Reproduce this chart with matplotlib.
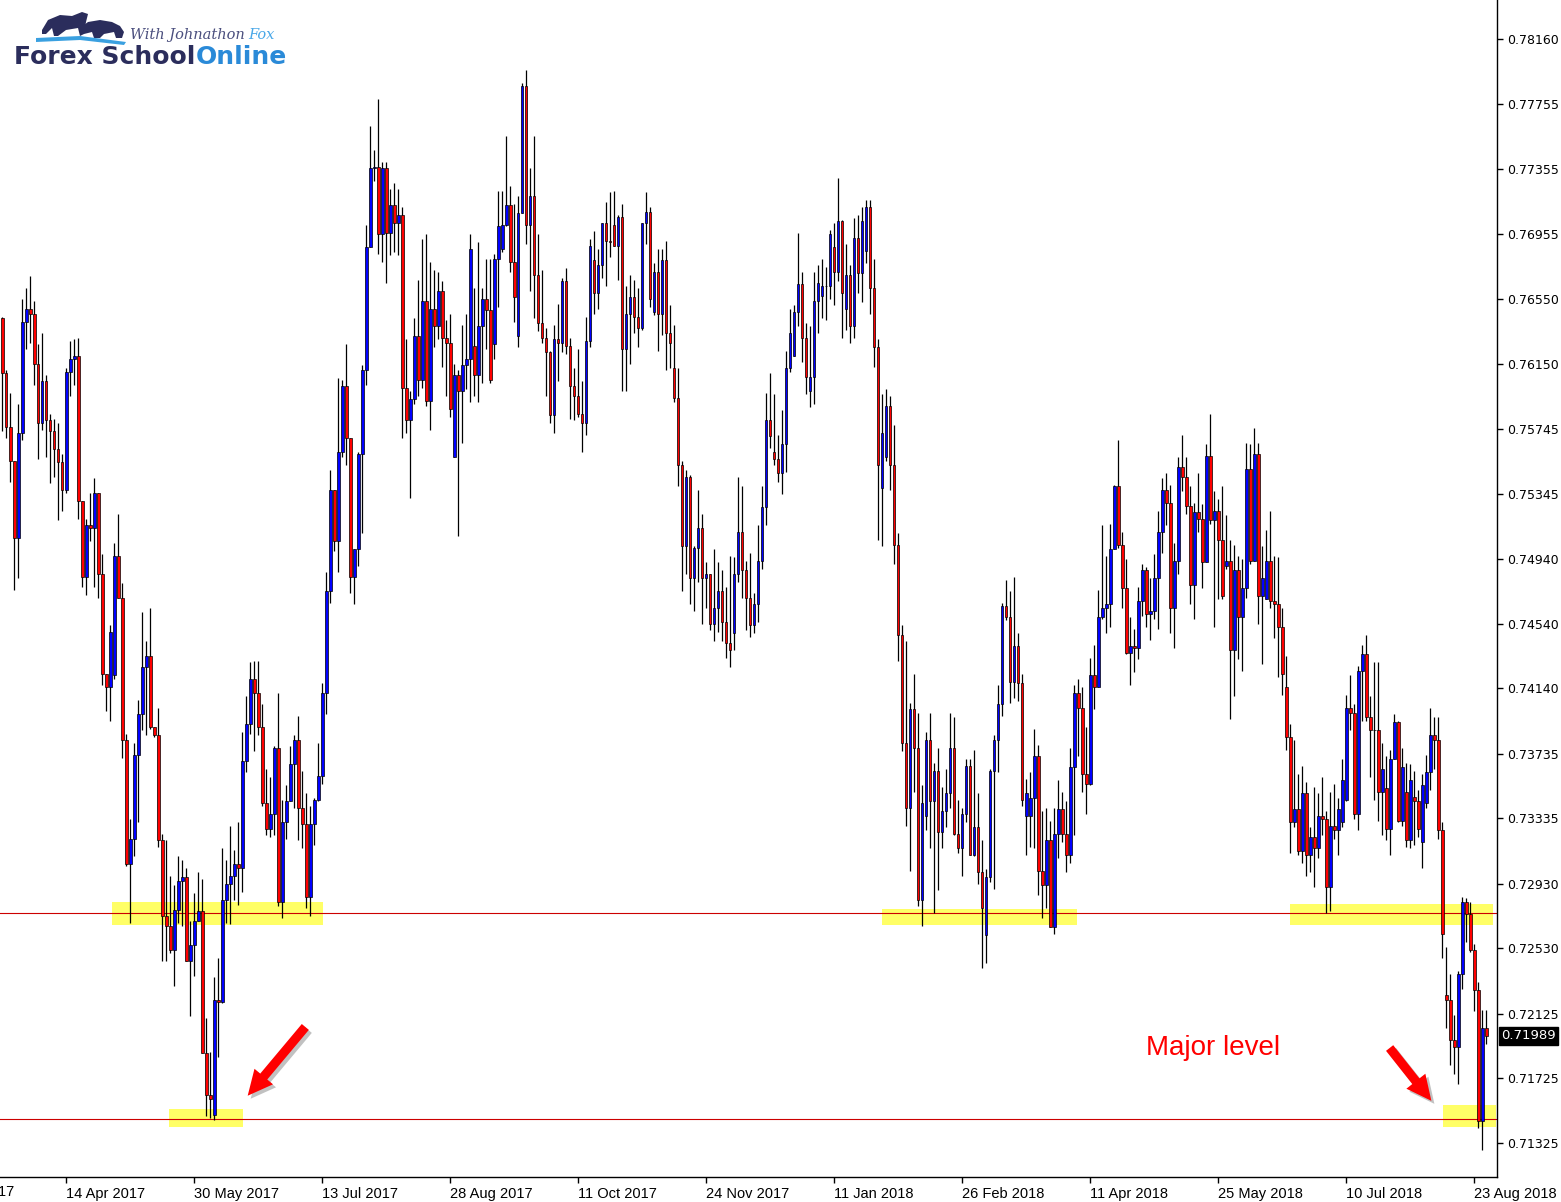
import numpy as np
import matplotlib.pyplot as plt
from matplotlib import font_manager
from matplotlib.patches import Rectangle, Polygon
from matplotlib.transforms import blended_transform_factory, ScaledTranslation

# AUD/USD daily candles, prices in units of 0.0001
first_open = 7643
closes = [
    7609, 7576, 7555, 7507, 7572, 7641, 7649, 7646, 7615, 7578, 7604, 7580, 7573, 7562, 7554, 7537,
    7610, 7618, 7620, 7530, 7483, 7515, 7513, 7535, 7485, 7423, 7415, 7449, 7496, 7470, 7382, 7305,
    7321, 7373, 7398, 7427, 7434, 7390, 7385, 7320, 7273, 7267, 7252, 7277, 7295, 7297, 7245, 7255,
    7270, 7276, 7188, 7162, 7160, 7221, 7220, 7283, 7293, 7298, 7305, 7303, 7369, 7392, 7420, 7411,
    7390, 7343, 7327, 7336, 7377, 7282, 7331, 7344, 7367, 7382, 7340, 7330, 7285, 7330, 7345, 7360,
    7411, 7474, 7537, 7505, 7560, 7601, 7569, 7483, 7500, 7559, 7611, 7687, 7736, 7737, 7695, 7736,
    7696, 7713, 7702, 7707, 7600, 7580, 7593, 7632, 7605, 7654, 7592, 7649, 7638, 7660, 7631, 7628,
    7587, 7608, 7598, 7614, 7618, 7686, 7608, 7638, 7655, 7648, 7605, 7680, 7700, 7701, 7713, 7678,
    7656, 7708, 7787, 7701, 7719, 7670, 7640, 7631, 7622, 7583, 7630, 7628, 7666, 7626, 7601, 7595,
    7584, 7578, 7629, 7688, 7659, 7676, 7702, 7691, 7690, 7688, 7706, 7624, 7646, 7656, 7644, 7637,
    7702, 7709, 7655, 7672, 7646, 7679, 7634, 7628, 7594, 7552, 7502, 7545, 7482, 7501, 7513, 7482,
    7485, 7454, 7464, 7474, 7455, 7442, 7438, 7485, 7511, 7487, 7470, 7453, 7466, 7493, 7526, 7580,
    7570, 7556, 7547, 7565, 7612, 7634, 7647, 7664, 7631, 7607, 7607, 7654, 7665, 7663, 7663, 7695,
    7672, 7703, 7659, 7670, 7638, 7693, 7671, 7703, 7712, 7662, 7625, 7552, 7572, 7589, 7552, 7503,
    7447, 7380, 7340, 7401, 7377, 7283, 7343, 7382, 7344, 7363, 7325, 7338, 7349, 7377, 7324, 7315,
    7336, 7366, 7311, 7328, 7300, 7278, 7297, 7363, 7382, 7404, 7465, 7458, 7418, 7440, 7417, 7345,
    7349, 7346, 7372, 7301, 7292, 7320, 7266, 7324, 7339, 7324, 7311, 7365, 7411, 7402, 7361, 7355,
    7422, 7415, 7458, 7464, 7466, 7500, 7539, 7503, 7476, 7436, 7440, 7439, 7468, 7487, 7460, 7462,
    7482, 7511, 7537, 7529, 7464, 7493, 7551, 7545, 7527, 7478, 7523, 7519, 7492, 7558, 7518, 7524,
    7506, 7471, 7493, 7438, 7487, 7458, 7476, 7550, 7493, 7559, 7471, 7482, 7493, 7468, 7466, 7452,
    7423, 7384, 7331, 7339, 7313, 7349, 7311, 7322, 7315, 7335, 7333, 7291, 7329, 7326, 7339, 7357,
    7402, 7399, 7336, 7425, 7435, 7396, 7388, 7388, 7350, 7364, 7327, 7370, 7393, 7332, 7365, 7320,
    7357, 7344, 7327, 7354, 7362, 7385, 7382, 7326, 7262, 7221, 7196, 7192, 7237, 7282, 7274, 7252,
    7227, 7146, 7204, 7199,
]
highs = [
    7644, 7611, 7597, 7554, 7590, 7655, 7662, 7669, 7654, 7627, 7634, 7608, 7584, 7581, 7578, 7559,
    7612, 7629, 7630, 7631, 7530, 7519, 7535, 7544, 7535, 7497, 7423, 7453, 7504, 7522, 7479, 7386,
    7333, 7380, 7407, 7461, 7443, 7464, 7390, 7402, 7324, 7320, 7298, 7292, 7310, 7308, 7303, 7270,
    7287, 7300, 7296, 7210, 7189, 7235, 7247, 7315, 7308, 7329, 7314, 7331, 7387, 7409, 7430, 7431,
    7431, 7404, 7364, 7359, 7378, 7411, 7345, 7354, 7378, 7385, 7397, 7363, 7349, 7341, 7346, 7380,
    7417, 7486, 7549, 7537, 7606, 7605, 7627, 7569, 7500, 7560, 7614, 7701, 7762, 7747, 7779, 7740,
    7740, 7723, 7727, 7723, 7712, 7630, 7598, 7643, 7667, 7692, 7695, 7678, 7673, 7672, 7666, 7642,
    7646, 7615, 7611, 7639, 7646, 7695, 7662, 7690, 7662, 7680, 7680, 7683, 7722, 7722, 7756, 7725,
    7714, 7719, 7789, 7797, 7736, 7756, 7695, 7673, 7637, 7623, 7639, 7652, 7668, 7674, 7631, 7612,
    7624, 7604, 7644, 7692, 7697, 7686, 7702, 7715, 7721, 7722, 7707, 7714, 7663, 7670, 7667, 7662,
    7702, 7721, 7712, 7677, 7686, 7686, 7691, 7651, 7639, 7612, 7555, 7549, 7546, 7502, 7537, 7522,
    7492, 7485, 7500, 7492, 7487, 7477, 7496, 7495, 7545, 7539, 7493, 7498, 7473, 7515, 7539, 7597,
    7609, 7596, 7571, 7586, 7623, 7649, 7651, 7696, 7672, 7640, 7638, 7672, 7676, 7680, 7675, 7698,
    7702, 7730, 7704, 7689, 7676, 7705, 7707, 7712, 7716, 7716, 7680, 7630, 7596, 7599, 7595, 7577,
    7510, 7453, 7443, 7405, 7423, 7399, 7354, 7387, 7399, 7368, 7377, 7353, 7364, 7399, 7396, 7345,
    7340, 7370, 7370, 7376, 7349, 7320, 7302, 7364, 7385, 7416, 7467, 7481, 7474, 7483, 7448, 7423,
    7358, 7362, 7389, 7379, 7338, 7340, 7332, 7340, 7357, 7350, 7344, 7377, 7416, 7420, 7415, 7390,
    7433, 7441, 7475, 7515, 7496, 7516, 7540, 7568, 7511, 7494, 7458, 7451, 7477, 7491, 7489, 7482,
    7497, 7524, 7544, 7547, 7540, 7504, 7557, 7571, 7557, 7539, 7529, 7547, 7528, 7565, 7584, 7536,
    7531, 7539, 7521, 7506, 7503, 7496, 7494, 7566, 7565, 7575, 7566, 7502, 7512, 7524, 7496, 7495,
    7464, 7434, 7392, 7382, 7361, 7366, 7356, 7328, 7353, 7349, 7359, 7338, 7350, 7355, 7346, 7370,
    7410, 7422, 7404, 7428, 7441, 7447, 7409, 7430, 7430, 7380, 7372, 7376, 7398, 7394, 7377, 7368,
    7367, 7363, 7351, 7361, 7373, 7402, 7396, 7396, 7331, 7254, 7237, 7212, 7239, 7285, 7284, 7282,
    7256, 7232, 7215, 7215,
]
lows = [
    7573, 7569, 7542, 7475, 7482, 7568, 7624, 7628, 7602, 7556, 7574, 7557, 7541, 7545, 7518, 7524,
    7535, 7595, 7602, 7519, 7477, 7472, 7505, 7477, 7470, 7416, 7400, 7394, 7420, 7470, 7371, 7304,
    7269, 7310, 7331, 7388, 7385, 7389, 7384, 7316, 7245, 7245, 7250, 7230, 7269, 7267, 7245, 7211,
    7236, 7270, 7188, 7149, 7148, 7147, 7186, 7219, 7269, 7268, 7283, 7280, 7288, 7362, 7386, 7375,
    7385, 7341, 7323, 7322, 7323, 7279, 7272, 7321, 7344, 7340, 7320, 7315, 7278, 7273, 7317, 7344,
    7355, 7398, 7467, 7499, 7486, 7557, 7552, 7473, 7466, 7490, 7510, 7602, 7687, 7728, 7683, 7678,
    7665, 7682, 7684, 7682, 7569, 7572, 7532, 7590, 7595, 7600, 7589, 7574, 7625, 7630, 7613, 7595,
    7582, 7557, 7508, 7566, 7599, 7591, 7595, 7591, 7603, 7624, 7603, 7618, 7650, 7684, 7700, 7672,
    7641, 7625, 7708, 7689, 7660, 7643, 7635, 7628, 7595, 7578, 7572, 7604, 7622, 7621, 7581, 7580,
    7582, 7560, 7571, 7625, 7646, 7649, 7668, 7663, 7681, 7688, 7667, 7598, 7598, 7615, 7634, 7625,
    7636, 7689, 7650, 7645, 7623, 7633, 7611, 7612, 7591, 7539, 7474, 7485, 7466, 7462, 7480, 7454,
    7464, 7450, 7443, 7449, 7443, 7433, 7427, 7438, 7480, 7470, 7450, 7446, 7448, 7455, 7488, 7515,
    7563, 7552, 7542, 7534, 7548, 7610, 7620, 7638, 7616, 7596, 7588, 7590, 7634, 7643, 7642, 7655,
    7651, 7666, 7631, 7636, 7628, 7631, 7659, 7653, 7677, 7646, 7613, 7506, 7502, 7555, 7537, 7491,
    7431, 7375, 7329, 7301, 7350, 7279, 7267, 7326, 7315, 7275, 7289, 7315, 7328, 7340, 7323, 7312,
    7298, 7331, 7311, 7310, 7293, 7241, 7244, 7294, 7290, 7362, 7397, 7456, 7405, 7408, 7406, 7341,
    7311, 7316, 7315, 7286, 7272, 7278, 7266, 7262, 7309, 7319, 7300, 7306, 7323, 7372, 7350, 7336,
    7354, 7401, 7415, 7457, 7448, 7452, 7500, 7501, 7464, 7435, 7416, 7424, 7432, 7459, 7452, 7444,
    7457, 7451, 7498, 7515, 7448, 7439, 7485, 7536, 7522, 7466, 7457, 7511, 7476, 7495, 7516, 7452,
    7469, 7469, 7488, 7395, 7409, 7432, 7425, 7470, 7491, 7493, 7454, 7429, 7469, 7464, 7445, 7421,
    7410, 7376, 7312, 7328, 7311, 7306, 7298, 7300, 7291, 7309, 7323, 7275, 7276, 7321, 7311, 7328,
    7344, 7388, 7333, 7326, 7394, 7394, 7359, 7345, 7332, 7323, 7320, 7311, 7370, 7331, 7329, 7316,
    7315, 7317, 7322, 7303, 7340, 7351, 7364, 7321, 7247, 7204, 7181, 7175, 7169, 7228, 7257, 7251,
    7214, 7142, 7128, 7194,
]
# candles that opened away from the previous close
gap_opens = {28: 7422, 53: 7150, 113: 7557, 118: 7626, 123: 7627, 125: 7686, 129: 7632,
             148: 7679, 153: 7701, 163: 7647, 168: 7612, 183: 7448, 193: 7560, 198: 7620,
             202: 7598, 205: 7657, 208: 7687, 211: 7649, 216: 7685, 220: 7538, 221: 7557,
             231: 7335, 246: 7261, 256: 7335, 257: 7335, 306: 7490, 316: 7469, 321: 7415,
             335: 7331, 336: 7345, 346: 7352, 351: 7350, 353: 7347, 355: 7319, 356: 7343,
             361: 7224}

date_ticks = [16, 48, 80, 112, 144, 176, 208, 240, 272, 304, 336, 368]
date_labels = ['14 Apr 2017', '30 May 2017', '13 Jul 2017', '28 Aug 2017', '11 Oct 2017',
               '24 Nov 2017', '11 Jan 2018', '26 Feb 2018', '11 Apr 2018', '25 May 2018',
               '10 Jul 2018', '23 Aug 2018']
price_ticks = [0.78160, 0.77755, 0.77355, 0.76955, 0.76550, 0.76150, 0.75745, 0.75345,
               0.74940, 0.74540, 0.74140, 0.73735, 0.73335, 0.72930, 0.72530, 0.72125,
               0.71725, 0.71325]
last_price = 0.71989
levels = [0.72750, 0.71474]
# highlighted zones: (first candle, last candle, low, high)
zones = [(27.4, 80.2, 0.72675, 0.72818), (41.7, 60.2, 0.71425, 0.71536),
         (219.9, 268.7, 0.72675, 0.72774), (321.9, 372.7, 0.72675, 0.72805),
         (360.2, 373.4, 0.71425, 0.71560)]

W, H = 1561, 1202

c = np.array(closes) / 10000
hi = np.array(highs) / 10000
lo = np.array(lows) / 10000
o = np.concatenate([[first_open], closes[:-1]]) / 10000
for k, v in gap_opens.items():
    o[k] = v / 10000
hi = np.maximum(hi, np.maximum(o, c))
lo = np.minimum(lo, np.minimum(o, c))
x = np.arange(len(c))

names = {f.name for f in font_manager.fontManager.ttflist}
narrow = 'Liberation Sans Narrow' if 'Liberation Sans Narrow' in names else 'Liberation Sans'
date_size = 12 if narrow == 'Liberation Sans Narrow' else 10.5

fig = plt.figure(figsize=(W / 100, H / 100), dpi=100)
ax = fig.add_axes([0, 25 / H, 1497 / W, 1177 / H])

for x0, x1, y0, y1 in zones:
    ax.add_patch(Rectangle((x0, y0), x1 - x0, y1 - y0, facecolor='#ffff66',
                           edgecolor='none', zorder=1))
for lv in levels:
    ax.axhline(lv, color='#cc0000', lw=0.8, zorder=1.5)

cols = np.where(c >= o, '#0000ff', '#ff0000')
ax.vlines(x, lo, hi, color='black', lw=0.9, zorder=2)
ax.bar(x, c - o, bottom=o, width=0.6, color=cols, edgecolor='black', linewidth=0.5, zorder=3)

# arrows with a soft shadow
shadow = ax.transData + ScaledTranslation(3 / 100, -3 / 100, fig.dpi_scale_trans)
for tail, head in [((76.2, 0.72057), (60.9, 0.71605)), ((346.4, 0.71927), (357.7, 0.71573))]:
    for tr, col, a in [(shadow, '#777777', 0.45), (ax.transData, '#ff0000', 1.0)]:
        ax.annotate('', xy=head, xytext=tail, xycoords=tr, textcoords=tr,
                    arrowprops=dict(arrowstyle='simple,head_length=1.5,head_width=1.45,tail_width=0.55',
                                    mutation_scale=12, color=col, alpha=a, lw=0),
                    zorder=5)

ax.text(285.9, 0.71914, 'Major level', color='#ff0000', fontsize=20,
        family='Liberation Sans', va='center', ha='left', zorder=6)

ax.set_xlim(-0.575, 373.675)
ax.set_ylim(0.71115, 0.78401)

ax.spines['top'].set_visible(False)
ax.spines['left'].set_visible(False)
ax.spines['right'].set_linewidth(1.0)
ax.spines['bottom'].set_linewidth(1.0)

ax.yaxis.tick_right()
ax.set_yticks(price_ticks)
ax.set_yticklabels([f'{p:.5f}' for p in price_ticks], fontsize=9, color='black')
ax.tick_params(axis='y', direction='out', length=4, width=1, pad=3)

ax.set_xticks(date_ticks)
ax.set_xticklabels(date_labels, fontsize=date_size, family=narrow, color='black')
for lab in ax.get_xticklabels():
    lab.set_ha('left')
ax.tick_params(axis='x', direction='out', length=4, width=1, pad=3)
xt = blended_transform_factory(ax.transData, ax.transAxes)
ax.text(-15.5, -8.3 / 1177, '1 Mar 2017', transform=xt, fontsize=date_size, family=narrow,
        ha='left', va='top', clip_on=False)

# last price tag
yt = blended_transform_factory(ax.transAxes, ax.transData)
ax.text(1.0028, last_price, f'{last_price:.5f}', transform=yt, fontsize=9.5, color='white',
        va='center', ha='left', clip_on=False, zorder=10,
        bbox=dict(boxstyle='square,pad=0.2', facecolor='black', edgecolor='black'))

# logo
def fp(px, py):
    return px / W, 1 - py / H

fig.text(*fp(14, 57), 'Forex School', fontsize=18, fontweight='bold', color='#2b2d5c', va='center')
fig.text(*fp(196, 57), 'Online', fontsize=18, fontweight='bold', color='#2a8ad8', va='center')
fig.text(*fp(130, 35), 'With Johnathon', fontsize=10.5, style='italic', family='DejaVu Serif',
         color='#4b4f7e', va='center')
fig.text(*fp(248, 35), 'Fox', fontsize=10.5, style='italic', family='DejaVu Serif',
         color='#4aa8e8', va='center')
bull = [(42, 30), (48, 20), (60, 15), (72, 16), (82, 12), (88, 14), (86, 22), (84, 34),
        (80, 36), (78, 28), (66, 30), (58, 36), (54, 36), (52, 28), (46, 34), (42, 34)]
bear = [(80, 28), (88, 22), (100, 20), (112, 22), (120, 26), (124, 32), (122, 38), (116, 38),
        (114, 32), (104, 34), (100, 38), (94, 38), (92, 32), (84, 34)]
for shape in (bull, bear):
    fig.patches.append(Polygon([fp(px, py) for px, py in shape], closed=True,
                               facecolor='#2b2d5c', edgecolor='none',
                               transform=fig.transFigure, figure=fig))
fig.patches.append(Polygon([fp(px, py) for px, py in
                            [(36, 38), (80, 36), (126, 42), (124, 45), (80, 40), (36, 42)]],
                           closed=True, facecolor='#3aa0e0', edgecolor='none',
                           transform=fig.transFigure, figure=fig))

fig.savefig('out.png', dpi=100)
